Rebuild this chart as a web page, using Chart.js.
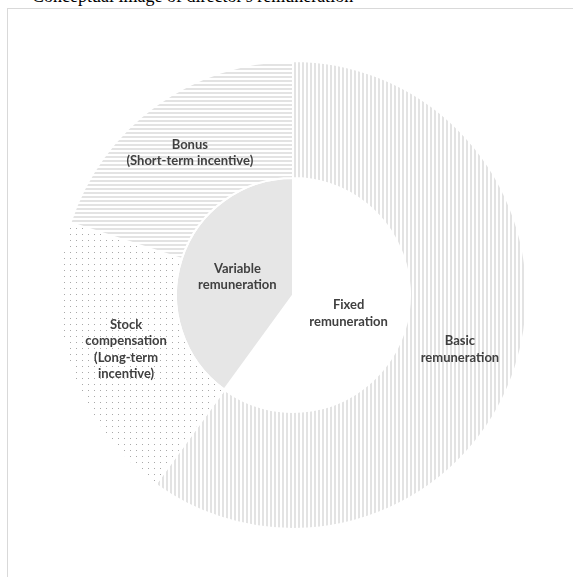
<!DOCTYPE html>
<html>
<head>
<meta charset="utf-8">
<script src="https://cdn.jsdelivr.net/npm/chart.js@4"></script>
<style>
  body { margin: 0; background: #fff; overflow: hidden; }
  #title { position: absolute; left: 32px; top: -14px; font: 18px "Liberation Serif", "Times New Roman", serif; color: #000; white-space: nowrap; }
  #frame { position: absolute; left: 7px; top: 8px; width: 640px; height: 640px; border: 1px solid #d9d9d9; }
  #wrap { position: absolute; left: 58px; top: 60px; width: 470px; height: 470px; }
</style>
</head>
<body>
<div id="title">Conceptual image of director's remuneration</div>
<div id="frame"></div>
<div id="wrap"><canvas id="remuneration-chart"></canvas></div>
<script>
	// outer ring
	var outerLabels = ["Basic\nremuneration", "Stock\ncompensation\n(Long-term\nincentive)", "Bonus\n(Short-term incentive)"];
	var outerValues = [60, 20, 20];
	// inner pie
	var innerLabels = ["Fixed\nremuneration", "Variable\nremuneration"];
	var innerValues = [60, 40];

	function makePattern(kind){
		var c = document.createElement("canvas");
		var ctx = c.getContext("2d");
		if (kind == "vertical"){
			c.width = 4; c.height = 4;
			ctx.fillStyle = "#ffffff"; ctx.fillRect(0, 0, 4, 4);
			ctx.fillStyle = "#e3e3e3"; ctx.fillRect(0, 0, 2, 4);
		} else if (kind == "horizontal"){
			c.width = 4; c.height = 4;
			ctx.fillStyle = "#ffffff"; ctx.fillRect(0, 0, 4, 4);
			ctx.fillStyle = "#e3e3e3"; ctx.fillRect(0, 0, 4, 2);
		} else {
			c.width = 6; c.height = 6;
			ctx.fillStyle = "#ffffff"; ctx.fillRect(0, 0, 6, 6);
			ctx.fillStyle = "#a8a8a8";
			ctx.fillRect(0, 0, 1, 1);
		}
		return ctx.createPattern(c, "repeat");
	}

	var segmentLabels = {
		id: "segmentLabels",
		afterDatasetsDraw: function(chart){
			var ctx = chart.ctx;
			ctx.save();
			ctx.fillStyle = "#404040";
			ctx.font = "bold 13px Lato, 'Open Sans', sans-serif";
			ctx.textAlign = "center";
			ctx.textBaseline = "middle";
			chart.data.datasets.forEach(function(ds, i){
				var meta = chart.getDatasetMeta(i);
				meta.data.forEach(function(arc, j){
					var p = arc.getCenterPoint();
					var lines = ds.labels[j].split("\n");
					var lh = 16.5;
					lines.forEach(function(line, k){
						ctx.fillText(line, p.x, p.y + (k - (lines.length - 1) / 2) * lh);
					});
				});
			});
			ctx.restore();
		}
	};

	new Chart("remuneration-chart", {
		type: "doughnut",
		data: {
			datasets: [{
				labels: outerLabels,
				data: outerValues,
				backgroundColor: [makePattern("vertical"), makePattern("dots"), makePattern("horizontal")]
			}, {
				labels: innerLabels,
				data: innerValues,
				backgroundColor: ["#ffffff", "#e6e6e6"]
			}]
		},
		options: {
			responsive: true,
			maintainAspectRatio: false,
			animation: false,
			cutout: 0,
			borderColor: "#ffffff",
			borderWidth: 2,
			layout: { padding: 0 },
			plugins: {
				legend: { display: false },
				tooltip: { enabled: false }
			}
		},
		plugins: [segmentLabels]
	});
</script>
</body>
</html>
